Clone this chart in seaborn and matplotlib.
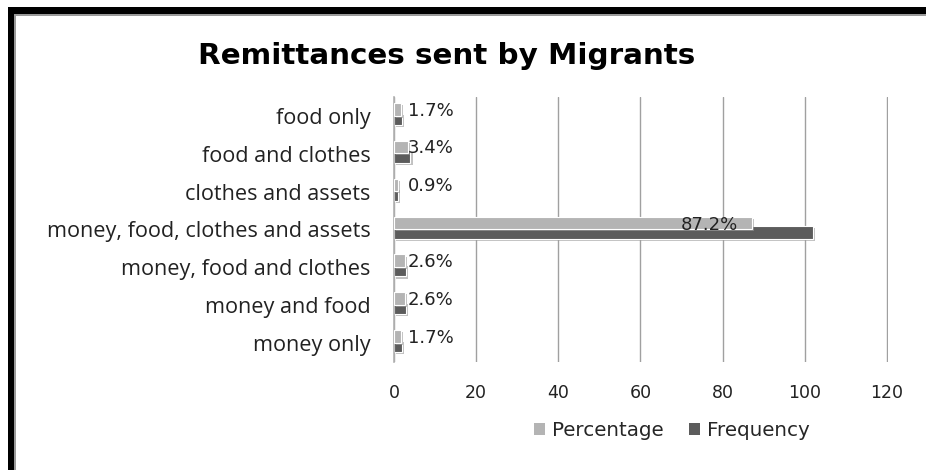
import matplotlib
matplotlib.use("Agg")
import matplotlib.pyplot as plt
import matplotlib.patheffects as pe
from matplotlib.patches import Patch, Rectangle
import seaborn as sns
import pandas as pd

categories = ["food only", "food and clothes", "clothes and assets",
              "money, food, clothes and assets", "money, food and clothes",
              "money and food", "money only"]
percentage = [1.7, 3.4, 0.9, 87.2, 2.6, 2.6, 1.7]
frequency = [2, 4, 1, 102, 3, 3, 2]
pct_labels = ["1.7%", "3.4%", "0.9%", "87.2%", "2.6%", "2.6%", "1.7%"]
x_ticks = [0, 20, 40, 60, 80, 100, 120]
series_names = ["Percentage", "Frequency"]

LIGHT = "#b4b4b4"
DARK = "#5c5c5c"

df = pd.DataFrame({
    "category": categories * 2,
    "value": percentage + frequency,
    "series": [series_names[0]] * len(categories) + [series_names[1]] * len(categories),
})

sns.set_theme(style="white")
plt.rcParams["font.family"] = ["Open Sans", "DejaVu Sans"]

fig = plt.figure(figsize=(9.26, 4.70), dpi=100)
ax = fig.add_axes([394 / 926, 1 - 362 / 470, (888 - 394) / 926, (362 - 97) / 470])

sns.barplot(data=df, y="category", x="value", hue="series", order=categories,
            hue_order=series_names, palette=[LIGHT, DARK], orient="h",
            width=0.66, dodge=True, ax=ax, legend=False, edgecolor="white", linewidth=0.8)

shadow = [pe.SimplePatchShadow(offset=(1.5, -1.5), shadow_rgbFace="#999999", alpha=0.6), pe.Normal()]
n = len(categories)
for i, p in enumerate(ax.patches[:2 * n]):
    p.set_path_effects(shadow)
    if i < n:
        p.set_zorder(3)
        p.set_y(p.get_y() - 0.01)
    else:
        p.set_zorder(2)
        p.set_y(p.get_y() - 0.09)

ax.set_xlim(0, 120.3)
ax.set_xticks(x_ticks)
ax.set_xticklabels([str(t) for t in x_ticks], fontfamily="DejaVu Sans", fontsize=12.5, color="#222222")
ax.tick_params(axis="x", pad=16, length=0)
ax.tick_params(axis="y", pad=17, length=0, labelsize=15.6, labelcolor="#222222")
ax.set_xlabel("")
ax.set_ylabel("")
ax.grid(axis="x", color="#a0a0a0", linewidth=1.0)
ax.set_axisbelow(True)
for s in ["top", "right", "bottom"]:
    ax.spines[s].set_visible(False)
ax.spines["left"].set_color("#b0b0b0")
ax.spines["left"].set_linewidth(1.2)

for i, (v, lab) in enumerate(zip(percentage, pct_labels)):
    if v < 10:
        ax.text(3.4, i - 0.14, lab, ha="left", va="center", fontsize=13,
                fontfamily="DejaVu Sans", color="#222222", zorder=5)
    else:
        ax.text(v - 3.5, i - 0.13, lab, ha="right", va="center", fontsize=13,
                fontfamily="DejaVu Sans", color="#222222", zorder=5)

fig.text(447 / 926, 1 - 64 / 470, "Remittances sent by Migrants", ha="center", va="baseline",
         fontsize=21.2, fontweight="bold", color="black", fontfamily="DejaVu Sans")

handles = [Patch(facecolor=LIGHT, edgecolor="none"), Patch(facecolor=DARK, edgecolor="none")]
fig.legend(handles, series_names, loc="center", bbox_to_anchor=(672 / 926, 1 - 431 / 470),
           ncol=2, frameon=False, handlelength=0.55, handleheight=0.55,
           handletextpad=0.35, columnspacing=1.3, prop={"family": "DejaVu Sans", "size": 14.3})

# figure frame (black border top and left)
fig.patches.append(Rectangle((8 / 926, 0), 6 / 926, 1 - 7 / 470, transform=fig.transFigure,
                             facecolor="black", edgecolor="none", zorder=10))
fig.patches.append(Rectangle((8 / 926, 1 - 14 / 470), 1 - 8 / 926, 7 / 470, transform=fig.transFigure,
                             facecolor="black", edgecolor="none", zorder=10))
fig.patches.append(Rectangle((14 / 926, 0), 2 / 926, 1 - 14 / 470, transform=fig.transFigure,
                             facecolor="#9a9a9a", edgecolor="none", zorder=10))
fig.patches.append(Rectangle((14 / 926, 1 - 16 / 470), 1 - 14 / 926, 2 / 470, transform=fig.transFigure,
                             facecolor="#9a9a9a", edgecolor="none", zorder=10))

fig.savefig("out.png", dpi=100)
